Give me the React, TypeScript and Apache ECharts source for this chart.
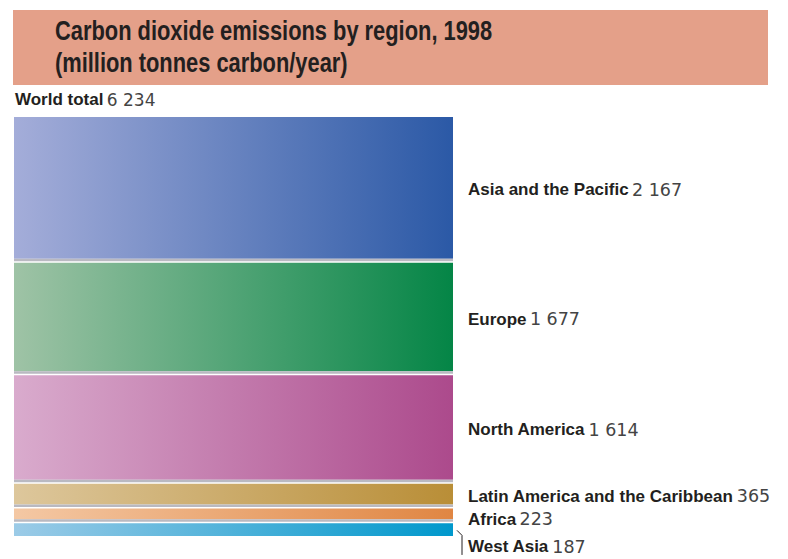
import React, { useEffect, useRef } from "react";
import * as echarts from "echarts";

const regions = [
  "Asia and the Pacific",
  "Europe",
  "North America",
  "Latin America and the Caribbean",
  "Africa",
  "West Asia",
];
const emissions = [2167, 1677, 1614, 365, 223, 187];
const worldTotal = 6234;
const leftColors = ["#a4add9", "#9fc3a6", "#d9abcd", "#ddc79c", "#f4c8a4", "#9ccbe7"];
const rightColors = ["#2b59a6", "#048546", "#ac4a8c", "#b98e37", "#e08643", "#0098cc"];
const titleLines = ["Carbon dioxide emissions by region, 1998", "(million tonnes carbon/year)"];

const fmt = (v: number) => String(v).replace(/\B(?=(\d{3})+(?!\d))/g, " ");

export default function App() {
  const ref = useRef<HTMLDivElement>(null);
  useEffect(() => {
    document.body.style.margin = "0";
    const chart = echarts.init(ref.current!, null, { renderer: "svg" });
    let cum = 0;
    const data = emissions.map((v, i) => {
      const item = [cum, cum + v, i];
      cum += v;
      return item;
    });
    const labelFont = "Liberation Sans, Arial, sans-serif";
    const numFont = "DejaVu Sans, sans-serif";
    chart.setOption({
      animation: false,
      grid: { left: 14, right: 335, top: 117, bottom: 23 },
      xAxis: { type: "value", min: 0, max: 1, show: false },
      yAxis: { type: "value", min: 0, max: worldTotal, inverse: true, show: false },
      graphic: [
        {
          type: "rect",
          shape: { x: 13, y: 10, width: 755, height: 75 },
          style: { fill: "#e4a089" },
          silent: true,
        },
        {
          type: "text",
          x: 55,
          y: 31,
          scaleX: 0.81,
          style: {
            text: titleLines[0],
            font: `bold 27px ${labelFont}`,
            fill: "#231f20",
            textVerticalAlign: "middle",
          },
        },
        {
          type: "text",
          x: 55,
          y: 63,
          scaleX: 0.81,
          style: {
            text: titleLines[1],
            font: `bold 27px ${labelFont}`,
            fill: "#231f20",
            textVerticalAlign: "middle",
          },
        },
        {
          type: "text",
          x: 15,
          y: 99.5,
          style: {
            text: `{b|World total} {n|${fmt(worldTotal)}}`,
            textVerticalAlign: "middle",
            rich: {
              b: { font: `bold 17px ${labelFont}`, fill: "#231f20" },
              n: { font: `17px ${numFont}`, fill: "#444" },
            },
          },
        },
      ],
      series: [
        {
          type: "custom",
          data,
          renderItem: (params: any, api: any) => {
            const s = api.value(0);
            const e = api.value(1);
            const i = api.value(2);
            const p0 = api.coord([0, s]);
            const p1 = api.coord([1, e]);
            const x = p0[0];
            const w = p1[0] - p0[0];
            const y0 = p0[1];
            const y1 = p1[1];
            const last = i === emissions.length - 1;
            const gap = last ? 0 : 4;
            const h = y1 - y0 - gap;
            const children: any[] = [
              {
                type: "rect",
                shape: { x, y: y0, width: w, height: h },
                style: {
                  fill: new echarts.graphic.LinearGradient(0, 0, 1, 0, [
                    { offset: 0, color: leftColors[i] },
                    { offset: 1, color: rightColors[i] },
                  ]),
                },
              },
            ];
            if (!last) {
              children.push({
                type: "rect",
                shape: { x, y: y0 + h, width: w, height: 2.5 },
                style: { fill: "#b9b9c1" },
              });
            }
            let ly = (y0 + y0 + h) / 2 + 2;
            if (i === 4) ly += 3.5;
            if (last) {
              ly += 15;
              children.push({
                type: "polyline",
                shape: {
                  points: [
                    [p1[0] + 4, y0 + 7],
                    [p1[0] + 9, y0 + 12],
                    [p1[0] + 9, y1 + 19],
                  ],
                },
                style: { stroke: "#231f20", lineWidth: 1, fill: "none" },
              });
            }
            children.push({
              type: "text",
              x: p1[0] + 15,
              y: ly,
              style: {
                text: `{b|${regions[i]}} {n|${fmt(emissions[i])}}`,
                textVerticalAlign: "middle",
                rich: {
                  b: { font: `bold 17px ${labelFont}`, fill: "#231f20" },
                  n: { font: `17.5px ${numFont}`, fill: "#444" },
                },
              },
            });
            return { type: "group", children };
          },
        },
      ],
    });
    return () => chart.dispose();
  }, []);
  return <div ref={ref} style={{ width: 788, height: 559 }} />;
}
